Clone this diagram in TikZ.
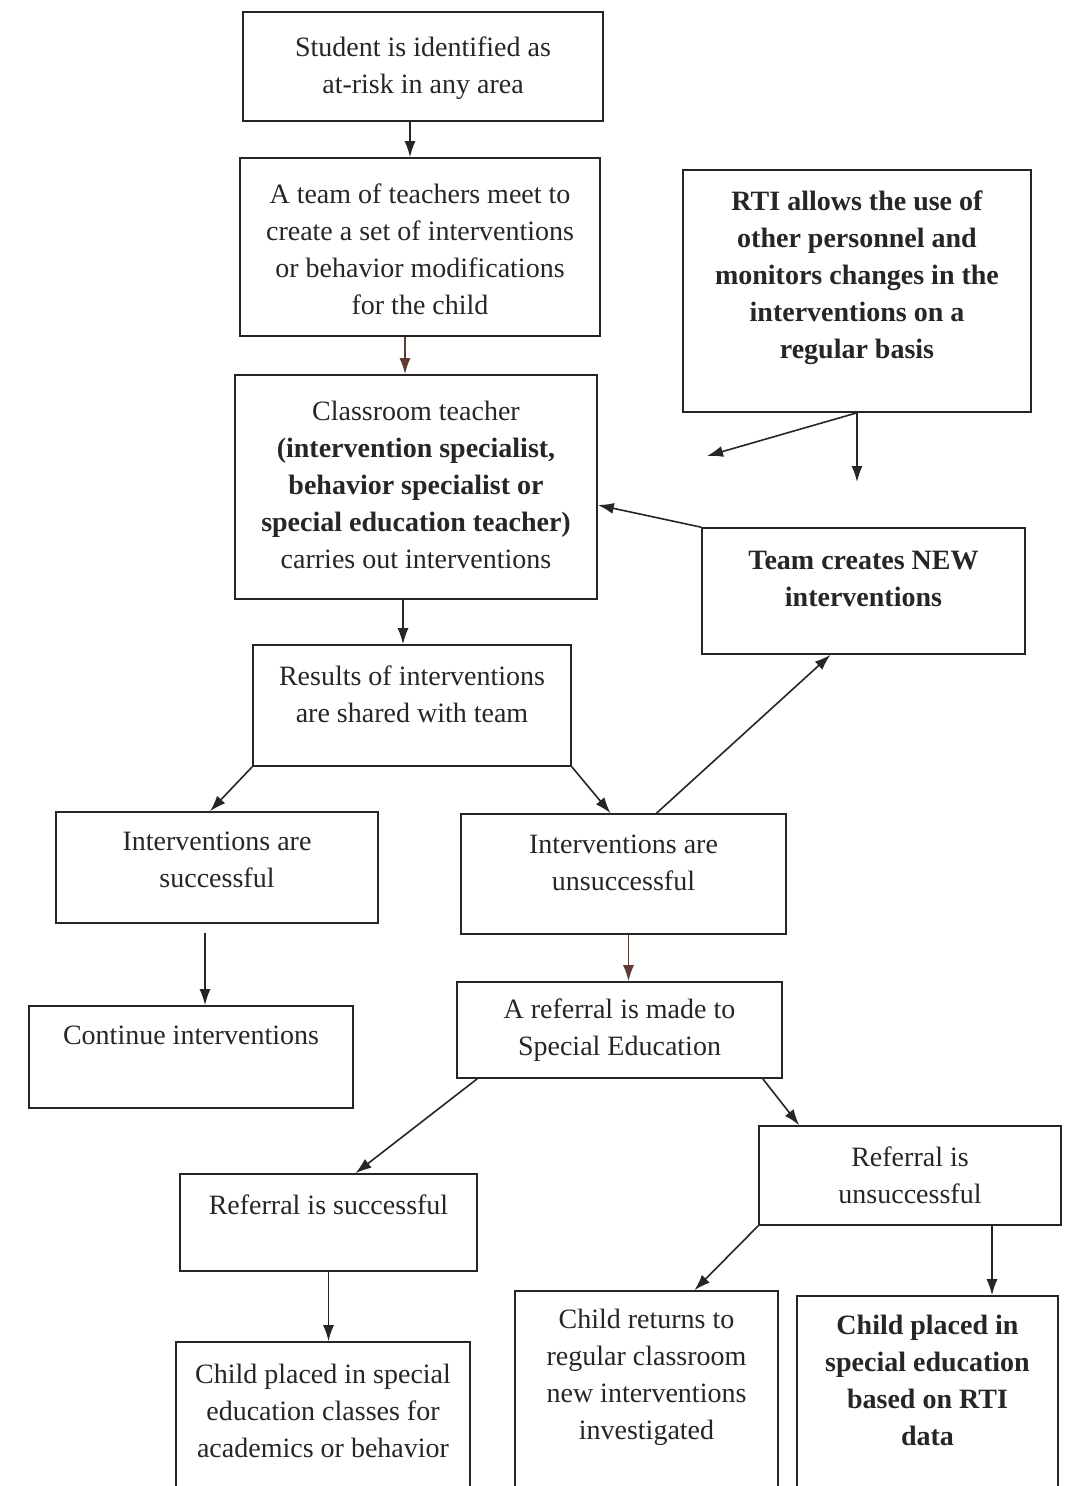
\documentclass[tikz,border=0pt]{standalone}
\usepackage{fontspec}
\setmainfont{Liberation Serif}
\usetikzlibrary{arrows.meta,fit,calc}
\tikzset{
  box/.style={draw=black!85, line width=1.6pt, rectangle, inner sep=0pt},
  txt/.style={align=center, inner sep=0pt, text=black!85, font=\fontsize{28}{37}\selectfont},
  btxt/.style={txt, font=\fontsize{28}{37}\selectfont\bfseries},
  arr/.style={draw=black!85, line width=1.6pt, -{Latex[length=16pt,width=11pt]}},
  arrb/.style={arr, draw={rgb,255:red,95;green,60;blue,50}},
}
% name, x1, y1, x2, y2, text y, style, text
\newcommand\mkbox[8]{%
  \node[box, fit={(#2,#3)(#4,#5)}] (#1) {};
  \node[#7] (#1t) at ({(#2+#4)/2},#6) {#8};
}
\begin{document}
\begin{tikzpicture}[x=1pt,y=-1pt]
\useasboundingbox (0,0) rectangle (1073,1486);
\fill[white] (0,0) rectangle (1073,1486);
\clip (0,0) rectangle (1073,1486);

\mkbox{stud}{243}{12}{603}{121}{68}{txt}{Student is identified as\\at-risk in any area}
\mkbox{team}{240}{158}{600}{336}{249}{txt}{A team of teachers meet to\\create a set of interventions\\or behavior modifications\\for the child}
\mkbox{rti}{683}{170}{1031}{412}{278}{btxt}{RTI allows the use of\\other personnel and\\monitors changes in the\\interventions on a\\regular basis}
\mkbox{class}{235}{375}{597}{599}{485}{txt}{Classroom teacher\\\textbf{(intervention specialist,}\\\textbf{behavior specialist or}\\\textbf{special education teacher)}\\carries out interventions}
\mkbox{new}{702}{528}{1025}{654}{579}{btxt}{Team creates NEW\\interventions}
\mkbox{res}{253}{645}{571}{766}{694}{txt}{Results of interventions\\are shared with team}
\mkbox{succ}{56}{812}{378}{923}{860}{txt}{Interventions are\\successful}
\mkbox{uns}{461}{814}{786}{934}{863}{txt}{Interventions are\\unsuccessful}
\mkbox{cont}{29}{1006}{353}{1108}{1035}{txt}{Continue interventions}
\mkbox{ref}{457}{982}{782}{1078}{1030}{txt}{A referral is made to\\Special Education}
\mkbox{runs}{759}{1126}{1061}{1225}{1175}{txt}{Referral is\\unsuccessful}
\mkbox{rsucc}{180}{1174}{477}{1271}{1205}{txt}{Referral is successful}
\mkbox{cls}{176}{1342}{470}{1530}{1411}{txt}{Child placed in special\\education classes for\\academics or behavior}
\mkbox{ret}{515}{1291}{778}{1530}{1377}{txt}{Child returns to\\regular classroom\\new interventions\\investigated}
\mkbox{rtid}{797}{1296}{1058}{1530}{1380}{btxt}{Child placed in\\special education\\based on RTI\\data}

\coordinate (rtiA) at (707,456);
\coordinate (rtiB) at (857,482);

\draw[arr] ([xshift=-13]stud.south) -- ([xshift=-13]stud.south |- team.north);
\draw[arrb] ([xshift=-15]team.south) -- ([xshift=-15]team.south |- class.north);
\draw[arr] (rti.south -| rtiA) ++(150,0) -- (rtiA);
\draw[arr] (rti.south -| rtiB) -- (rtiB);
\draw[arr] (new.north west) -- ([yshift=-18]class.east);
\draw[arr] ([xshift=-13]class.south) -- ([xshift=-13]class.south |- res.north);
\draw[arr] (res.south west) -- ([xshift=-7]succ.north);
\draw[arr] (res.south east) -- ([xshift=-13]uns.north);
\draw[arr] ([xshift=33]uns.north) -- ([xshift=-33]new.south);
\draw[arrb] ([xshift=5]uns.south) -- ([xshift=5]uns.south |- ref.north);
\draw[arr] ([xshift=-12,yshift=-9]succ.south) -- ([xshift=-12]succ.south |- cont.north);
\draw[arr] ([xshift=21]ref.south west) -- ([xshift=27]rsucc.north);
\draw[arr] ([xshift=-20]ref.south east) -- ([xshift=41]runs.north west);
\draw[arr] (runs.south west) -- ([xshift=48]ret.north);
\draw[arr] ([xshift=82]runs.south) -- ([xshift=82]runs.south |- rtid.north);
\draw[arr] (rsucc.south) -- (rsucc.south |- cls.north);
\end{tikzpicture}
\end{document}
